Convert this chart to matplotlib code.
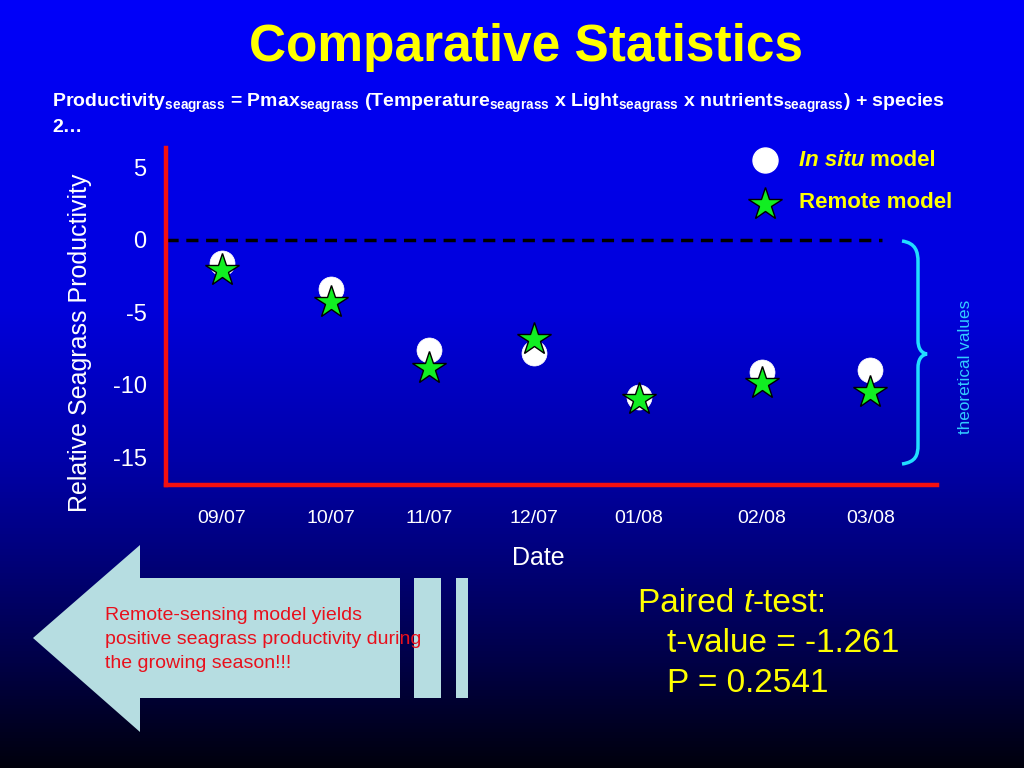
import numpy as np
import matplotlib
matplotlib.use("Agg")
import matplotlib.pyplot as plt
from matplotlib.path import Path
from matplotlib.patches import PathPatch, Polygon, Rectangle
from matplotlib.colors import LinearSegmentedColormap
from matplotlib.text import Annotation

plt.rcParams['font.family'] = ['Liberation Sans', 'DejaVu Sans']
plt.rcParams['mathtext.fontset'] = 'custom'
plt.rcParams['mathtext.bf'] = 'Liberation Sans:bold'
plt.rcParams['mathtext.rm'] = 'Liberation Sans:bold'

# ---- data ----
sample_day = [0, 31, 59, 89, 119, 154, 185]          # days since first sampling
date_labels = ['09/07', '10/07', '11/07', '12/07', '01/08', '02/08', '03/08']
in_situ = [-1.6, -3.4, -7.6, -7.8, -10.8, -9.1, -9.0]
remote = [-2.1, -4.3, -8.8, -6.8, -11.0, -9.9, -10.5]
y_ticks = [5, 0, -5, -10, -15]

W, H = 1024, 768
fig = plt.figure(figsize=(W / 100, H / 100), dpi=100)


def P(x, y):
    return (x / W, 1 - y / H)


# ---- background gradient ----
bg = fig.add_axes([0, 0, 1, 1], zorder=-10)
stops = [(0.0, (0.0, 0.0, 0.98)), (0.40, (0.0, 0.0, 0.86)), (0.60, (0.0, 0.0, 0.66)),
         (0.72, (0.0, 0.0, 0.49)), (0.86, (0.0, 0.0, 0.28)), (1.0, (0.0, 0.0, 0.05))]
cmap = LinearSegmentedColormap.from_list('bg', stops)
grad = np.linspace(0, 1, 512).reshape(-1, 1)
bg.imshow(grad, aspect='auto', cmap=cmap, extent=[0, 1, 0, 1], origin='upper')
bg.set_axis_off()

# ---- main axes ----
left, right, top, bottom = 166, 937, 148, 485
ax = fig.add_axes([left / W, 1 - bottom / H, (right - left) / W, (bottom - top) / H])
ax.set_facecolor('none')
ax.set_xlim(-16, 204)
ax.set_ylim(-16.9, 6.34)
for s in ['top', 'right']:
    ax.spines[s].set_visible(False)
for s in ['left', 'bottom']:
    ax.spines[s].set_color('#f41010')
    ax.spines[s].set_linewidth(3.2)
ax.set_yticks(y_ticks)
ax.set_yticklabels([str(v) for v in y_ticks])
ax.set_xticks(sample_day)
ax.set_xticklabels(date_labels)
ax.tick_params(axis='y', length=0, pad=14, labelsize=17, labelcolor='white')
ax.tick_params(axis='x', length=0, pad=18, labelsize=14, labelcolor='white')

ax.axhline(0, xmin=0, xmax=(882 - left) / (right - left), color='black',
           lw=2.5, ls=(0, (3.5, 2.2)), zorder=2)
ax.plot(sample_day, in_situ, ls='none', marker='o', ms=18, mfc='white',
        mec='white', mew=0.5, zorder=3, clip_on=False)
ax.plot(sample_day, remote, ls='none', marker='*', ms=25, mfc='#11ee22',
        mec='black', mew=1.0, zorder=4, clip_on=False)

# ---- texts ----
fig.text(*P(526, 48), 'Comparative Statistics', color='#ffff00', fontsize=37,
         fontweight='bold', ha='center', va='center')

formula = (r'Productivity$_{\mathbf{seagrass}}$ = Pmax$_{\mathbf{seagrass}}$ '
           r'(Temperature$_{\mathbf{seagrass}}$ x Light$_{\mathbf{seagrass}}$ x '
           r'nutrients$_{\mathbf{seagrass}}$) + species')
fig.text(*P(52, 103), formula, color='white', fontsize=14, fontweight='bold',
         ha='left', va='center')
fig.text(*P(52, 127), '2\u2026', color='white', fontsize=14, fontweight='bold',
         ha='left', va='center')

fig.text(*P(80, 343), 'Relative Seagrass Productivity', color='white', fontsize=18,
         rotation=90, ha='center', va='center')
fig.text(*P(538, 558), 'Date', color='white', fontsize=18, ha='center', va='center')

# legend
fig.lines.append(plt.Line2D([765 / W], [1 - 160 / H], transform=fig.transFigure,
                            marker='o', ms=18, mfc='white', mec='white', ls='none'))
fig.lines.append(plt.Line2D([765 / W], [1 - 204 / H], transform=fig.transFigure,
                            marker='*', ms=25, mfc='#11ee22', mec='black', mew=1.0, ls='none'))
t1 = fig.text(*P(799, 160), 'In situ', color='#ffff00', fontsize=16,
              fontweight='bold', style='italic', ha='left', va='center')
fig.add_artist(Annotation(' model', xy=(1, 0), xycoords=t1, va='bottom', ha='left',
                          color='#ffff00', fontsize=16, fontweight='bold'))
fig.text(*P(799, 203), 'Remote model', color='#ffff00', fontsize=16,
         fontweight='bold', ha='left', va='center')

# brace
cyan = '#22ddff'
verts = [P(902, 241), P(916, 243), P(918, 252), P(918, 262),
         P(918, 340),
         P(918, 348), P(921, 353), P(927, 354),
         P(921, 355), P(918, 360), P(918, 368),
         P(918, 445),
         P(918, 455), P(916, 462), P(902, 464)]
codes = [Path.MOVETO, Path.CURVE4, Path.CURVE4, Path.CURVE4,
         Path.LINETO,
         Path.CURVE4, Path.CURVE4, Path.CURVE4,
         Path.CURVE4, Path.CURVE4, Path.CURVE4,
         Path.LINETO,
         Path.CURVE4, Path.CURVE4, Path.CURVE4]
fig.add_artist(PathPatch(Path(verts, codes), fill=False, ec=cyan, lw=2.5,
                         transform=fig.transFigure))
fig.text(*P(965, 367), 'theoretical values', color='#33ccff', fontsize=12.3,
         rotation=90, ha='center', va='center')

# arrow
arrow_col = '#b6dde1'
arrow_pts = [P(33, 638), P(140, 545), P(140, 578), P(400, 578), P(400, 698),
             P(140, 698), P(140, 732)]
fig.add_artist(Polygon(arrow_pts, closed=True, fc=arrow_col, ec='none',
                       transform=fig.transFigure))
for x0, x1 in [(414, 441), (456, 468)]:
    fig.add_artist(Rectangle(P(x0, 698), (x1 - x0) / W, 120 / H, fc=arrow_col,
                             ec='none', transform=fig.transFigure))
for i, line in enumerate(['Remote-sensing model yields',
                          'positive seagrass productivity during',
                          'the growing season!!!']):
    fig.text(*P(105, 615 + 24 * i), line, color='#e8101c', fontsize=14,
             ha='left', va='center')

# t-test
yel = '#ffff00'
tp = fig.text(*P(638, 603), 'Paired ', color=yel, fontsize=24, ha='left', va='center')
tt = fig.add_artist(Annotation('t', xy=(1, 0), xycoords=tp, va='bottom',
                               ha='left', color=yel, fontsize=24, style='italic'))
fig.add_artist(Annotation('-test:', xy=(1, 0), xycoords=tt, va='bottom',
                          ha='left', color=yel, fontsize=24))
fig.text(*P(667, 643), 't-value = -1.261', color=yel, fontsize=24, ha='left', va='center')
fig.text(*P(667, 684), 'P = 0.2541', color=yel, fontsize=24, ha='left', va='center')

fig.savefig('out.png', dpi=100)
